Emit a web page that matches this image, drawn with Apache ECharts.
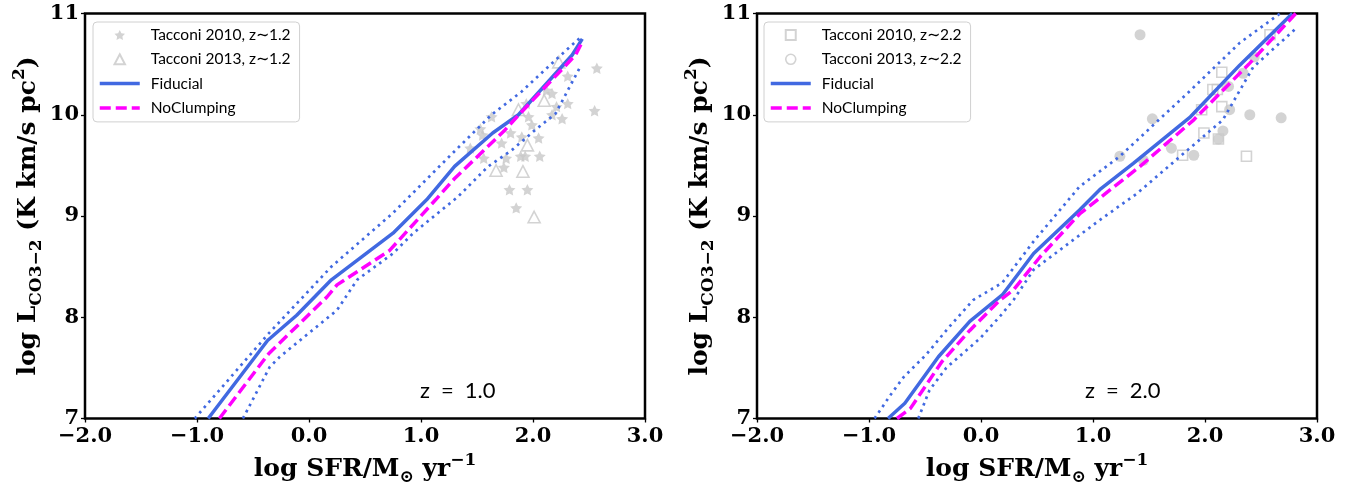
<!DOCTYPE html>
<html><head><meta charset="utf-8">
<script src="https://cdn.jsdelivr.net/npm/echarts@6.0.0/dist/echarts.min.js"></script>
<style>html,body{margin:0;padding:0;background:#fff}#c{width:1362px;height:487px}</style>
</head><body><div id="c"></div>
<script>
// ---- tick settings ----
const xMin = -2, xMax = 3, xStep = 1;
const yMin = 7, yMax = 11, yStep = 1;

// ---- Left panel (z = 1.0) ----
const leftFiducial = [[-0.90,7.0],[-0.37,7.77],[-0.11,8.02],[0.20,8.37],[0.75,8.83],[1.05,9.16],[1.30,9.49],[1.64,9.82],[1.87,10.0],[2.35,10.59],[2.44,10.75]];
const leftNoClump = [[-0.80,7.0],[-0.36,7.64],[0.16,8.20],[0.25,8.32],[0.72,8.66],[1.13,9.16],[1.30,9.37],[1.75,9.85],[1.90,10.03],[2.38,10.59],[2.43,10.70]];
const leftUpper = [[-1.02,7.0],[-0.36,7.84],[0.20,8.50],[0.75,9.03],[1.30,9.64],[1.63,10.0],[1.90,10.23],[2.20,10.54],[2.44,10.78]];
const leftLower = [[-0.59,7.0],[-0.35,7.51],[-0.26,7.61],[0.25,8.07],[0.43,8.37],[0.75,8.63],[0.93,8.83],[1.33,9.19],[1.60,9.49],[1.81,9.65],[2.02,9.85],[2.20,10.01],[2.32,10.26],[2.42,10.47]];
const tacconi2010_z12 = [[2.57,10.46],[2.55,10.04],[2.31,10.38],[2.17,10.21],[2.21,10.08],[2.31,10.11],[2.17,10.0],[2.26,9.96],[2.12,10.24],[1.94,10.11],[1.96,9.98],[1.99,9.90],[2.05,9.77],[2.06,9.59],[1.90,9.78],[1.89,9.59],[1.93,9.59],[1.80,9.82],[1.72,9.72],[1.76,9.57],[1.74,9.48],[1.63,9.98],[1.55,9.80],[1.53,9.86],[1.44,9.67],[1.56,9.57],[1.79,9.26],[1.95,9.26],[1.85,9.08]];
const tacconi2013_z12 = [[2.23,10.52],[2.10,10.14],[1.87,10.05],[1.95,9.70],[1.67,9.45],[1.91,9.44],[2.01,8.99]];

// ---- Right panel (z = 2.0) ----
const rightFiducial = [[-0.83,7.0],[-0.68,7.15],[-0.38,7.61],[-0.10,7.96],[0.19,8.22],[0.47,8.63],[0.88,9.06],[1.06,9.26],[1.36,9.52],[1.87,9.98],[2.31,10.49],[2.78,11.0]];
const rightNoClump = [[-0.75,7.0],[-0.63,7.10],[-0.35,7.56],[-0.10,7.87],[0.17,8.17],[0.29,8.27],[0.53,8.60],[0.88,9.02],[1.27,9.36],[1.42,9.49],[1.90,9.95],[2.40,10.51],[2.81,11.0]];
const rightUpper = [[-0.95,7.0],[-0.81,7.23],[-0.69,7.41],[-0.49,7.63],[-0.28,7.91],[-0.07,8.17],[0.19,8.34],[0.47,8.75],[0.88,9.29],[1.24,9.59],[1.87,10.24],[2.31,10.71],[2.67,11.0]];
const rightLower = [[-0.56,7.0],[-0.46,7.28],[-0.31,7.50],[-0.01,7.79],[0.17,8.01],[0.29,8.17],[0.47,8.47],[1.06,8.96],[1.39,9.22],[1.78,9.59],[2.16,9.95],[2.43,10.47],[2.80,10.84]];
const tacconi2010_z22 = [[2.15,10.42],[2.07,10.25],[2.11,10.25],[1.97,10.05],[2.15,10.08],[1.99,9.82],[1.80,9.60],[2.37,9.59],[2.12,9.76],[2.58,10.79]];
const tacconi2013_z22 = [[1.42,10.79],[1.24,9.59],[1.45,9.55],[1.53,9.96],[1.70,9.67],[1.90,9.60],[2.21,10.28],[2.34,10.41],[2.22,10.05],[2.16,9.84],[2.40,10.0],[2.68,9.97],[2.44,10.57],[2.12,9.76]];

const names = {
  t10a: 'Tacconi 2010, z\u223C1.2', t13a: 'Tacconi 2013, z\u223C1.2',
  t10b: 'Tacconi 2010, z\u223C2.2', t13b: 'Tacconi 2013, z\u223C2.2',
  fid: 'Fiducial', noc: 'NoClumping'
};

const BLUE = '#4169E1', MAG = '#FF00FF', GRAY = '#c8c8c8', CLEAR = 'rgba(0,0,0,0)';
const STAR = 'path://M50,0 L64.7,29.8 L97.6,34.5 L73.8,57.7 L79.4,90.5 L50,75 L20.6,90.5 L26.2,57.7 L2.4,34.5 L35.3,29.8 Z';
const TRI = 'path://M50,4 L96,92 L4,92 Z';
const SQR = 'path://M5,5 L95,5 L95,95 L5,95 Z';

const serifBold = {fontFamily: 'DejaVu Serif', fontWeight: 'bold'};
const nameRich = {
  a: {...serifBold, fontSize: 25, lineHeight: 34, verticalAlign: 'middle', color: '#000'},
  s: {...serifBold, fontSize: 17, lineHeight: 34, verticalAlign: 'bottom', color: '#000'},
  p: {...serifBold, fontSize: 17, lineHeight: 34, verticalAlign: 'top', color: '#000'}
};

function xAxis(i) {
  return {
    type: 'value', gridIndex: i, min: xMin, max: xMax, interval: xStep,
    name: '{a|log SFR/M}{s|\u2299}{a| yr}{p|\u22121}',
    nameLocation: 'middle', nameGap: 32,
    nameTextStyle: {rich: nameRich},
    axisLine: {show: false, onZero: false},
    axisTick: {show: true, length: 4, lineStyle: {color: '#000', width: 1.3}},
    splitLine: {show: false},
    axisLabel: {...serifBold, fontSize: 21, color: '#000', margin: 8,
      formatter: v => (v < 0 ? '\u2212' : '') + Math.abs(v).toFixed(1)}
  };
}
function yAxis(i) {
  return {
    type: 'value', gridIndex: i, min: yMin, max: yMax, interval: yStep,
    name: '{a|log L}{s|CO3\u22122}{a| (K km/s pc}{p|2}{a|)}',
    nameLocation: 'middle', nameGap: 40, nameRotate: 90,
    nameTextStyle: {rich: nameRich},
    axisLine: {show: false, onZero: false},
    axisTick: {show: true, length: 4, lineStyle: {color: '#000', width: 1.3}},
    splitLine: {show: false},
    axisLabel: {...serifBold, fontSize: 21, color: '#000', margin: 6}
  };
}
function lineSeries(name, data, i, color, type, width) {
  return {type: 'line', name, data, xAxisIndex: i, yAxisIndex: i, showSymbol: false, symbol: 'none',
    lineStyle: {color, type, width, cap: 'butt'}, itemStyle: {color: CLEAR, borderWidth: 0},
    clip: true, z: 3, animation: false, silent: true};
}
function bandSeries(name, data, i) {
  return {type: 'line', name, data, xAxisIndex: i, yAxisIndex: i, symbol: 'none',
    lineStyle: {color: BLUE, type: [2.6, 4.4], width: 2.7, cap: 'butt'},
    clip: true, z: 3, animation: false, silent: true};
}
function scatter(name, data, i, symbol, size, hollow) {
  return {type: 'scatter', name, data, xAxisIndex: i, yAxisIndex: i, symbol, symbolSize: size,
    symbolKeepAspect: true,
    itemStyle: hollow ? {color: CLEAR, borderColor: GRAY, borderWidth: 1.6}
                      : {color: GRAY, borderWidth: 0},
    z: 2, animation: false, silent: true};
}
function lineItem(name, color, type) {
  return {name, itemStyle: {color: CLEAR, borderWidth: 0}, lineStyle: {color, type, width: 3.5}};
}
function legend(left, items) {
  return {
    orient: 'vertical', left, top: 22, data: items,
    itemWidth: 40, itemHeight: 10, itemGap: 6.3,
    padding: [4, 9, 5, 5],
    borderColor: '#d0d0d0', borderWidth: 1, borderRadius: 4,
    backgroundColor: 'rgba(255,255,255,0.85)',
    symbolKeepAspect: true,
    textStyle: {fontFamily: 'Lato', fontSize: 15.5, lineHeight: 18, color: '#000', padding: [0, 0, 0, 6]},
    selectedMode: false
  };
}

const chart = echarts.init(document.getElementById('c'), null, {renderer: 'canvas'});
chart.setOption({
  animation: false,
  backgroundColor: '#fff',
  grid: [
    {left: 85, top: 13.5, width: 560, height: 405, show: true, borderColor: '#000', borderWidth: 2.5, backgroundColor: 'transparent', containLabel: false, outerBoundsMode: 'none'},
    {left: 757, top: 13.5, width: 560, height: 405, show: true, borderColor: '#000', borderWidth: 2.5, backgroundColor: 'transparent', containLabel: false, outerBoundsMode: 'none'}
  ],
  xAxis: [xAxis(0), xAxis(1)],
  yAxis: [yAxis(0), yAxis(1)],
  legend: [
    legend(93, [names.t10a, names.t13a, lineItem(names.fid, BLUE, 'solid'), lineItem(names.noc, MAG, [11, 5])]),
    legend(764, [names.t10b, {name: names.t13b, itemStyle: {color: CLEAR, borderColor: GRAY, borderWidth: 1.6}}, lineItem(names.fid, BLUE, 'solid'), lineItem(names.noc, MAG, [11, 5])])
  ],
  series: [
    scatter(names.t10a, tacconi2010_z12, 0, STAR, 12, false),
    scatter(names.t13a, tacconi2013_z12, 0, TRI, 12, true),
    bandSeries('Fiducial upper z1', leftUpper, 0),
    bandSeries('Fiducial lower z1', leftLower, 0),
    lineSeries(names.fid, leftFiducial, 0, BLUE, 'solid', 3.5),
    lineSeries(names.noc, leftNoClump, 0, MAG, [11, 5], 3.5),

    scatter(names.t10b, tacconi2010_z22, 1, SQR, 10, true),
    scatter(names.t13b, tacconi2013_z22, 1, 'circle', 11, false),
    bandSeries('Fiducial upper z2', rightUpper, 1),
    bandSeries('Fiducial lower z2', rightLower, 1),
    lineSeries(names.fid, rightFiducial, 1, BLUE, 'solid', 3.5),
    lineSeries(names.noc, rightNoClump, 1, MAG, [11, 5], 3.5)
  ],
  graphic: [
    {type: 'text', left: 420, top: 380, style: {text: 'z\u2002=\u20021.0', fontFamily: 'Lato', fontSize: 22, fill: '#000'}},
    {type: 'text', left: 1085, top: 380, style: {text: 'z\u2002=\u20022.0', fontFamily: 'Lato', fontSize: 22, fill: '#000'}}
  ]
});
</script>
</body></html>
